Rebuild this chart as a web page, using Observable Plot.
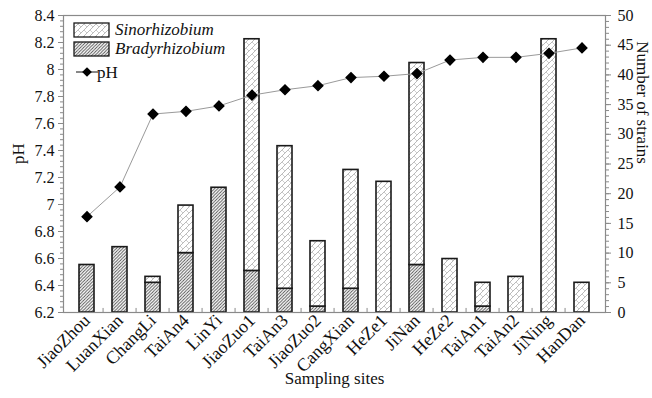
<!DOCTYPE html>
<html>
<head>
<meta charset="utf-8">
<script src="https://cdn.jsdelivr.net/npm/d3@7"></script>
<script src="https://cdn.jsdelivr.net/npm/@observablehq/plot@0.6"></script>
<style>
  html, body { margin: 0; padding: 0; background: #fff; }
  #chart { width: 652px; height: 398px; position: relative; }
</style>
</head>
<body>
<div id="chart"></div>
<script>
const sites = ["JiaoZhou","LuanXian","ChangLi","TaiAn4","LinYi","JiaoZuo1","TaiAn3","JiaoZuo2","CangXian","HeZe1","JiNan","HeZe2","TaiAn1","TaiAn2","JiNing","HanDan"];
const bradyCounts = [8, 11, 5, 10, 21, 7, 4, 1, 4, 0, 8, 0, 1, 0, 0, 0];
const sinoCounts  = [0, 0, 1, 8, 0, 39, 24, 11, 20, 22, 34, 9, 4, 6, 46, 5];
const pHValues = [6.91, 7.13, 7.67, 7.69, 7.73, 7.81, 7.85, 7.88, 7.94, 7.95, 7.97, 8.07, 8.09, 8.09, 8.12, 8.16];
const pHTicks = [6.2, 6.4, 6.6, 6.8, 7.0, 7.2, 7.4, 7.6, 7.8, 8.0, 8.2, 8.4];
const strainTicks = [0, 5, 10, 15, 20, 25, 30, 35, 40, 45, 50];
const seriesNames = ["Sinorhizobium", "Bradyrhizobium", "pH"];

const pHMin = 6.2, pHMax = 8.4, strainMax = 50;
const toPH = c => pHMin + c * (pHMax - pHMin) / strainMax;
const fromPH = v => (v - pHMin) * strainMax / (pHMax - pHMin);

const rows = sites.map((s, i) => ({site: s, brady: bradyCounts[i], sino: sinoCounts[i], pH: pHValues[i]}));

const W = 652, H = 398, mL = 63, mR = 47, mT = 15, mB = 86;
const step = (W - mL - mR) / sites.length;

const minorPH = d3.range(0, 56).map(i => +(pHMin + i * 0.04).toFixed(3)).filter(v => v <= pHMax + 1e-9);
const minorStrain = d3.range(0, strainMax + 1).map(toPH);

const font = "'Liberation Serif', 'Times New Roman', serif";

const plot = Plot.plot({
  width: W, height: H,
  marginLeft: mL, marginRight: mR, marginTop: mT, marginBottom: mB,
  style: {fontFamily: font, fontSize: "16px", color: "#111", background: "#fff"},
  x: {type: "band", domain: sites, paddingInner: 0.56, paddingOuter: 0.28, axis: null},
  y: {domain: [pHMin, pHMax], axis: null},
  marks: [
    Plot.barY(rows.filter(d => d.brady > 0), {
      x: "site", y1: () => toPH(0), y2: d => toPH(d.brady),
      fill: "url(#patBrady)", stroke: "#1a1a1a", strokeWidth: 1.6
    }),
    Plot.barY(rows.filter(d => d.sino > 0), {
      x: "site", y1: d => toPH(d.brady), y2: d => toPH(d.brady + d.sino),
      fill: "url(#patSino)", stroke: "#1a1a1a", strokeWidth: 1.6
    }),
    Plot.frame({stroke: "#8a8a8a", strokeWidth: 1.2}),
    Plot.ruleX(sites.slice(1), {x: d => d, dx: -step / 2, y1: () => pHMin, y2: () => pHMin + 0.03, stroke: "#8a8a8a"}),
    Plot.axisY(pHTicks, {anchor: "left", tickSize: 5, tickPadding: 4, fontSize: 16, stroke: "#8a8a8a", fill: "#111",
      tickFormat: v => String(+v.toFixed(1)), label: null}),
    Plot.axisY(minorPH, {anchor: "left", tickSize: 3, tickFormat: () => "", stroke: "#8a8a8a", label: null}),
    Plot.axisY(strainTicks.map(toPH), {anchor: "right", tickSize: 5, tickPadding: 7, fontSize: 16, stroke: "#8a8a8a", fill: "#111",
      tickFormat: v => String(Math.round(fromPH(v))), label: null}),
    Plot.axisY(minorStrain, {anchor: "right", tickSize: 3, tickFormat: () => "", stroke: "#8a8a8a", label: null}),
    Plot.axisX(sites, {anchor: "bottom", tickSize: 0, tickPadding: 5, tickRotate: -45, fontSize: 18, fill: "#111", label: null}),
    Plot.line(rows, {x: "site", y: "pH", stroke: "#9a9a9a", strokeWidth: 1}),
    Plot.dot(rows, {x: "site", y: "pH", symbol: "diamond2", r: 4.3, fill: "#000", stroke: "#000"}),
    Plot.text(["pH"], {frameAnchor: "left", dx: -45, rotate: -90, fontSize: 17, fill: "#111"}),
    Plot.text(["Number of strains"], {frameAnchor: "right", dx: 37, rotate: 90, fontSize: 17, fill: "#111"}),
    Plot.text(["Sampling sites"], {frameAnchor: "bottom", dy: 71, fontSize: 17, fill: "#111"})
  ]
});

const svg = d3.select(plot);
const defs = svg.insert("defs", ":first-child");
const pS = defs.append("pattern").attr("id", "patSino").attr("patternUnits", "userSpaceOnUse")
  .attr("width", 6).attr("height", 6);
pS.append("rect").attr("width", 6).attr("height", 6).attr("fill", "#fff");
pS.append("path").attr("d", "M0,6 L6,0 M-1,1 L1,-1 M5,7 L7,5").attr("stroke", "#a8a8a8").attr("stroke-width", 0.8);
pS.append("path").attr("d", "M0,0 L3,3").attr("stroke", "#b8b8b8").attr("stroke-width", 0.7);
const pB = defs.append("pattern").attr("id", "patBrady").attr("patternUnits", "userSpaceOnUse")
  .attr("width", 3.2).attr("height", 3.2);
pB.append("rect").attr("width", 3.2).attr("height", 3.2).attr("fill", "#fff");
pB.append("path").attr("d", "M0,3.2 L3.2,0 M-0.8,0.8 L0.8,-0.8 M2.4,4 L4,2.4").attr("stroke", "#4a4a4a").attr("stroke-width", 0.9);

const lg = svg.append("g").attr("font-family", font).attr("font-size", 17).attr("fill", "#111").attr("text-anchor", "start");
const items = [
  {name: seriesNames[0], fill: "url(#patSino)", y: 23},
  {name: seriesNames[1], fill: "url(#patBrady)", y: 42}
];
items.forEach(it => {
  lg.append("rect").attr("x", 74).attr("y", it.y).attr("width", 35).attr("height", 14)
    .attr("fill", it.fill).attr("stroke", "#1a1a1a").attr("stroke-width", 1.3);
  lg.append("text").attr("x", 115).attr("y", it.y + 12).attr("font-style", "italic").attr("text-anchor", "start").text(it.name);
});
lg.append("line").attr("x1", 76).attr("x2", 98).attr("y1", 72).attr("y2", 72).attr("stroke", "#111").attr("stroke-width", 1);
lg.append("path").attr("d", d3.symbol(d3.symbolDiamond2 || d3.symbolSquare2, 60)()).attr("transform", "translate(87,72)").attr("fill", "#000");
lg.append("text").attr("x", 97).attr("y", 78).attr("text-anchor", "start").text(seriesNames[2]);

document.getElementById("chart").appendChild(plot);
</script>
</body>
</html>
